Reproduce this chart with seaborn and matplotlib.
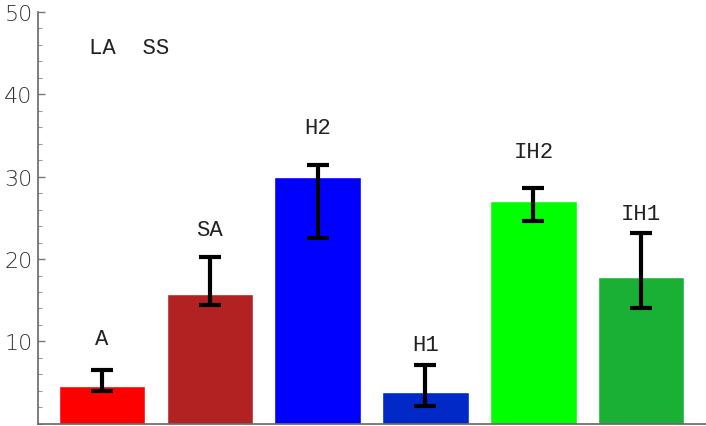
import matplotlib
matplotlib.use("Agg")
import matplotlib.pyplot as plt
import numpy as np
import pandas as pd
import seaborn as sns
from matplotlib.ticker import MultipleLocator

# values
groups = ["A", "SA", "H2", "H1", "IH2", "IH1"]
means = [4.6, 15.8, 30.0, 3.85, 27.1, 17.8]
err_hi = [6.5, 20.3, 31.4, 7.1, 28.6, 23.1]
err_lo = [4.0, 14.4, 22.5, 2.2, 24.6, 14.0]
label_y = [10.3, 23.6, 36.0, 9.6, 33.0, 25.5]
bar_colors = ["#ff0000", "#b22222", "#0000ff", "#0029c8", "#00ff00", "#1ab035"]

df = pd.DataFrame({"group": groups, "mean": means})

sns.set_style("white")
fig = plt.figure(figsize=(7.06, 4.27), dpi=100)
ax = fig.add_axes([0.054, 0.005, 0.946, 0.965])

sns.barplot(data=df, x="group", y="mean", hue="group", palette=bar_colors,
            legend=False, width=0.8, saturation=1, ax=ax)

x = np.arange(len(groups))
yerr = [np.array(means) - np.array(err_lo), np.array(err_hi) - np.array(means)]
ax.errorbar(x, means, yerr=yerr, fmt="none", ecolor="black", elinewidth=3,
            capsize=8, capthick=3)

# names above each bar
for xi, name, ly in zip(x, groups, label_y):
    ax.text(xi, ly, name, ha="center", va="center", fontsize=16,
            family="Liberation Mono", color="#222222")
ax.text(0.25, 45.7, "LA  SS", ha="center", va="center", fontsize=16,
        family="Liberation Mono", color="#222222")

ax.set_xlim(-0.59, 5.6)
ax.set_ylim(0, 50)
ax.set_xticks([])
ax.set_xlabel("")
ax.set_ylabel("")
ax.yaxis.set_major_locator(MultipleLocator(10))
ax.yaxis.set_minor_locator(MultipleLocator(2))
ax.set_yticks([10, 20, 30, 40, 50])
ax.tick_params(axis="y", which="major", direction="in", length=5, width=1,
               color="#777777", labelsize=16, labelcolor="#333333", left=True,
               pad=4)
ax.tick_params(axis="y", which="minor", direction="in", length=3, width=0.8,
               color="#999999", left=True)
for lbl in ax.get_yticklabels():
    lbl.set_fontweight("light")
for s in ["top", "right"]:
    ax.spines[s].set_visible(False)
for s in ["left", "bottom"]:
    ax.spines[s].set_color("#666666")
    ax.spines[s].set_linewidth(1.2)

plt.savefig("out.png", dpi=100)
